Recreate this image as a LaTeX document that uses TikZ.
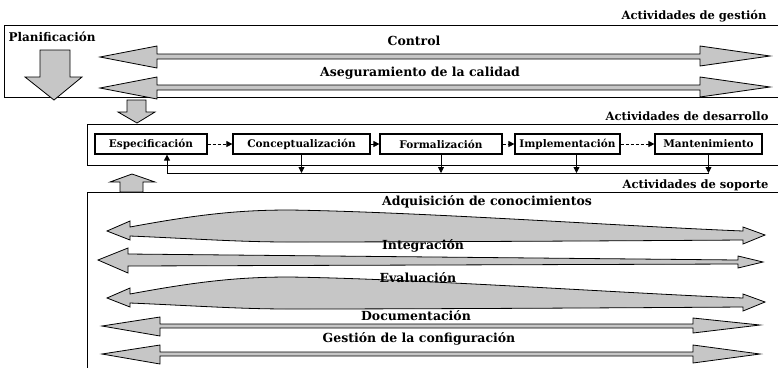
\documentclass[tikz,border=0pt]{standalone}
\usepackage{fontspec}
\setmainfont{DejaVu Serif}
\usetikzlibrary{arrows.meta}

\begin{document}
\begin{tikzpicture}[
        x=1pt, y=-1pt,
        frame/.style={draw, thick},
        band/.style={draw, thick, fill=gray!45, line join=miter},
        phase/.style={rectangle, draw, very thick, minimum height=20pt, inner sep=1pt, font=\bfseries\fontsize{10.5}{11}\selectfont},
        title/.style={font=\bfseries\fontsize{11.5}{12}\selectfont, anchor=east},
        activity/.style={font=\bfseries\fontsize{12.5}{13}\selectfont},
        flow/.style={-{Triangle[length=6pt,width=6pt]}, thick}
    ]
        \useasboundingbox (0,0) rectangle (778,368);

        % Group frames
        \draw[frame] (778,25) -| (4,97) -- (778,97);
        \draw[frame] (778,124) -| (87,165) -- (778,165);
        \draw[frame] (778,192) -| (87,368);

        % Group titles
        \node[title] (gest) at (770,16) {Actividades de gestión};
        \node[title] (desa) at (772,116) {Actividades de desarrollo};
        \node[title] (sopo) at (772,185) {Actividades de soporte};

        % Management activities
        \node[font=\bfseries\fontsize{12}{13}\selectfont, anchor=west] (plan) at (5,37) {Planificación};
        \draw[band] (40,50) -- (70,50) -- (70,77) -- (82,77) -- (54,100) -- (25,77) -- (40,77) -- cycle;
        \draw[band] (100,57) -- (157,46) -- (157,54) -- (700,54) -- (700,46) -- (770,56) -- (700,66) -- (700,59) -- (157,59) -- (157,68) -- cycle;
        \draw[band] (100,88) -- (157,77) -- (157,85) -- (700,85) -- (700,77) -- (770,87) -- (700,97) -- (700,90) -- (157,90) -- (157,99) -- cycle;
        \node[activity] (ctrl) at (414,41) {Control};
        \node[activity] (qual) at (420,73) {Aseguramiento de la calidad};

        % Links between the groups
        \draw[band] (127,100) -- (146,100) -- (146,112) -- (155,112) -- (137,123) -- (118,112) -- (127,112) -- cycle;
        \draw[band] (120,192) -- (143,192) -- (143,182) -- (155,182) -- (132,174) -- (110,182) -- (120,182) -- cycle;

        % Development phases
        \node[phase, minimum width=112pt] (esp) at (151,144) {Especificación};
        \node[phase, minimum width=137pt] (con) at (301.5,144) {Conceptualización};
        \node[phase, minimum width=122pt] (for) at (441,144) {Formalización};
        \node[phase, minimum width=105pt] (imp) at (567.5,144) {Implementación};
        \node[phase, minimum width=107pt] (man) at (708.5,144) {Mantenimiento};

        \draw[flow, densely dashed] (esp) -- (con);
        \draw[flow, densely dashed] (con) -- (for);
        \draw[flow, densely dashed] (for) -- (imp);
        \draw[flow, densely dashed] (imp) -- (man);

        % Feedback line
        \coordinate (fbL) at (167,173);
        \coordinate (fbR) at (708.5,173);
        \draw[thick] (fbL) -- (fbR);
        \draw[flow] (fbL) -- (fbL |- esp.south);
        \draw[flow] (con.south) -- (con.south |- fbR);
        \draw[flow] (for.south) -- (for.south |- fbR);
        \draw[flow] ([xshift=9pt]imp.south) -- ([xshift=9pt]imp.south |- fbR);
        \draw[flow] (man.south) -- (man.south |- fbR);

        % Support activities
        \draw[band] (107,231) -- (130,221) -- (130,227) .. controls (200,214) and (240,210) .. (290,210)
            .. controls (420,212) and (620,226) .. (743,231) -- (743,227) -- (765,235) -- (743,244) -- (743,240)
            .. controls (600,241) and (400,242) .. (290,242) .. controls (240,242) and (200,239) .. (130,236)
            -- (130,240) -- cycle;
        \draw[band] (98,260) -- (128,248) -- (128,254) -- (738,260) -- (738,256) -- (763,262) -- (738,268) -- (738,264) -- (128,266) -- (128,273) -- cycle;
        \draw[band] (107,298) -- (130,288) -- (130,294) .. controls (200,281) and (240,277) .. (290,277)
            .. controls (420,279) and (620,293) .. (743,298) -- (743,294) -- (765,302) -- (743,311) -- (743,307)
            .. controls (600,308) and (400,309) .. (290,309) .. controls (240,309) and (200,306) .. (130,303)
            -- (130,307) -- cycle;
        \draw[band] (102,326) -- (160,317) -- (160,324) -- (693,324) -- (693,318) -- (760,325) -- (693,333) -- (693,328) -- (160,328) -- (160,336) -- cycle;
        \draw[band] (102,354) -- (160,345) -- (160,352) -- (693,352) -- (693,345) -- (760,354) -- (693,363) -- (693,356) -- (160,356) -- (160,364) -- cycle;

        \node[activity] (adq) at (487,202) {Adquisición de conocimientos};
        \node[activity] (int) at (423,246) {Integración};
        \node[activity] (eva) at (418,278) {Evaluación};
        \node[activity] (doc) at (416,316) {Documentación};
        \node[activity] (cfg) at (419,339) {Gestión de la configuración};

    \end{tikzpicture}
\end{document}
